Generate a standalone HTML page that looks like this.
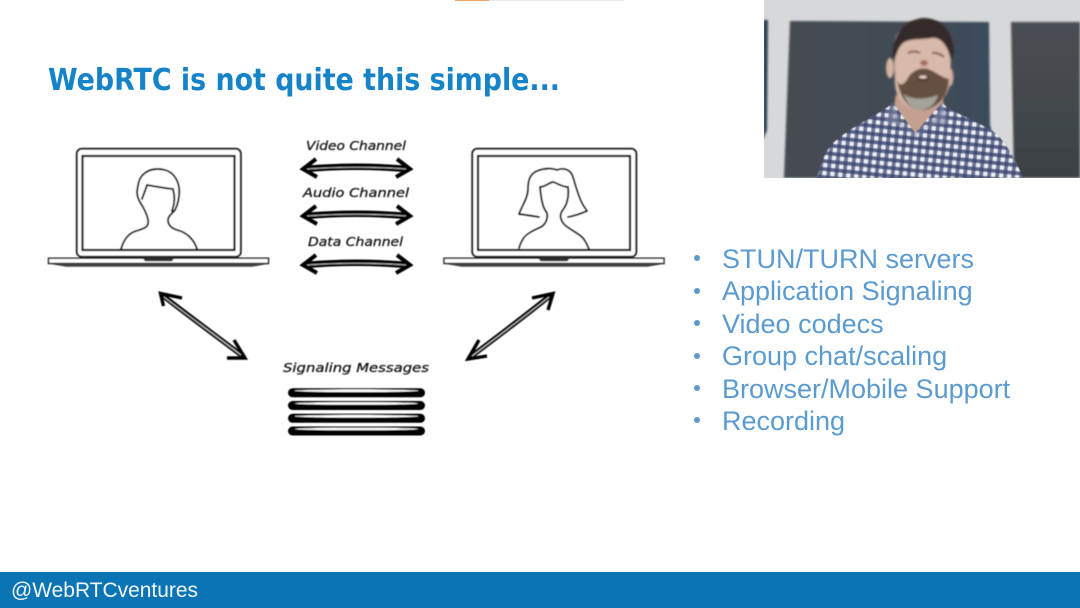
<!DOCTYPE html>
<html><head><meta charset="utf-8"><style>
html,body{margin:0;padding:0;background:#fff}
svg{display:block}
</style></head><body>
<svg width="1080" height="608" viewBox="0 0 1080 608" xmlns="http://www.w3.org/2000/svg">
<defs>
<filter id="b1" x="-5%" y="-5%" width="110%" height="110%"><feGaussianBlur stdDeviation="0.4"/></filter>
<filter id="b2" x="-5%" y="-5%" width="110%" height="110%"><feGaussianBlur stdDeviation="1"/></filter>
<filter id="b4" x="-5%" y="-5%" width="110%" height="110%"><feGaussianBlur stdDeviation="0.6"/></filter>
<pattern id="chk" width="8" height="8" patternUnits="userSpaceOnUse" patternTransform="rotate(6)">
<rect width="8" height="8" fill="#eef0f5"/>
<rect width="4" height="8" fill="#4b5680" opacity=".8"/>
<rect width="8" height="4" fill="#3b4570" opacity=".8"/>
</pattern>
<linearGradient id="pan" x1="0" y1="0" x2="1" y2="0"><stop offset="0" stop-color="#454b51"/><stop offset=".6" stop-color="#434c54"/><stop offset="1" stop-color="#394b5d"/></linearGradient>
<linearGradient id="pan2" x1="0" y1="0" x2="0" y2="1"><stop offset="0" stop-color="#4b4f53"/><stop offset="1" stop-color="#3c4145"/></linearGradient>
<g id="laptop">
<rect x="76.8" y="148.8" width="164" height="108" rx="5" fill="#fff" stroke="#222" stroke-width="2"/>
<rect x="82.500" y="156" width="152" height="94" fill="#fff" stroke="#111" stroke-width="2.200"/>
<path d="M48.500 258.200H268.500V263.500H48.500Z" fill="#fff" stroke="#222" stroke-width="1.500"/>
<path d="M50 264L66 266.800H252L268 264Z" fill="#444"/>
<path d="M143 258.200H174L172 261.200H145Z" fill="#333"/>
</g>
<g id="harrow">
<path d="M305 169Q356 164.500 408 169" fill="none" stroke="#050505" stroke-width="6.500"/>
<path d="M307 169Q356 165.500 406 169" fill="none" stroke="#bbb" stroke-width="1.100"/>
<path d="M316 159L303 169L317 177" fill="none" stroke="#050505" stroke-width="4"/>
<path d="M397 159L410 169L396 177" fill="none" stroke="#050505" stroke-width="4"/>
</g>
<g id="disk">
<rect x="288" y="-4.500" width="137" height="9" rx="4.500" fill="#050505"/>
<ellipse cx="356.500" cy="-2" rx="62" ry="1.300" fill="#fff"/>
</g>
</defs>

<rect width="1080" height="608" fill="#fff"/>
<rect x="455" y="0" width="34" height="1" fill="#eda56f"/>
<rect x="489" y="0" width="135" height="1" fill="#e9e9e9"/>

<text x="48" y="90" font-family="'DejaVu Sans',sans-serif" font-weight="700" font-size="30" fill="#1583c8" textLength="512" lengthAdjust="spacingAndGlyphs">WebRTC is not quite this simple...</text>

<g filter="url(#b1)">
<use href="#laptop"/>
<use href="#laptop" x="395.500"/>
<g fill="none" stroke="#0c0c0c" stroke-width="1.900" stroke-linecap="round" stroke-linejoin="round">
<path d="M121 249C124 239 129 233 136 231C142 229 147 228 148 224C149 219 146 213 143 207C139 201 137 197 137 192C138 184 139 177 145 173C150 169 158 168 165 170C172 172 177 177 179 187C180 196 178 204 175 210C172 214 168 216 168 220C168 225 171 228 177 230C186 232 194 239 197 249"/>
<path d="M142 199C144 193 146 189 147 185C153 186 164 188 173 189"/>
<path d="M173 189C175 196 175 203 172 211"/>
<path d="M519 214C523 204 528 197 528 189C528 180 530 174 537 171C544 168 552 168 557 170C564 167 571 170 573 177C576 187 578 195 582 203C584 207 586 209 587 211C580 214 574 216 568 217"/>
<path d="M519 214C526 215 533 216 539 217"/>
<path d="M540 187C545 187 550 182 553 182C557 183 562 187 568 187"/>
<path d="M540 187C541 197 542 207 547 213C548 218 546 224 541 227C532 231 526 234 523 239C521 242 520 245 519 248"/>
<path d="M568 187C569 196 568 204 562 211C559 216 561 222 566 226C574 232 582 235 585 241C587 244 588 247 589 249"/>
</g>
<use href="#harrow"/>
<use href="#harrow" y="47"/>
<use href="#harrow" y="96"/>
<g fill="none">
<path d="M162 295C190 317 215 335 244 357" stroke="#050505" stroke-width="5"/>
<path d="M164 297C190 317 215 335 241 355" stroke="#c4c4c4" stroke-width="1.100"/>
<path d="M163.500 306L160.500 293.500L182 298" stroke="#050505" stroke-width="3.400"/>
<path d="M234 340L245 358L227 358" stroke="#050505" stroke-width="3.400"/>
<path d="M551 295C525 316 497 337 469 358" stroke="#050505" stroke-width="5"/>
<path d="M549 297C525 316 497 337 472 356" stroke="#c4c4c4" stroke-width="1.100"/>
<path d="M532 298L553 293.500L548 310" stroke="#050505" stroke-width="3.400"/>
<path d="M479 340L468 359L487 356" stroke="#050505" stroke-width="3.400"/>
</g>
<use href="#disk" y="392.800"/>
<use href="#disk" y="405.500"/>
<use href="#disk" y="418.300"/>
<use href="#disk" y="431"/>
</g>

<g font-family="'DejaVu Sans',sans-serif" font-style="oblique" font-size="12.500" fill="#111" stroke="#111" stroke-width=".25" filter="url(#b1)">
<text x="306" y="150" textLength="100" lengthAdjust="spacingAndGlyphs">Video Channel</text>
<text x="303" y="197" textLength="106" lengthAdjust="spacingAndGlyphs">Audio Channel</text>
<text x="308" y="246" textLength="95" lengthAdjust="spacingAndGlyphs">Data Channel</text>
<text x="283" y="372" textLength="146" lengthAdjust="spacingAndGlyphs">Signaling Messages</text>
</g>

<g font-family="'Liberation Sans',sans-serif" font-size="27" fill="#5b9bcf">
<circle cx="697" cy="258" r="3"/><text x="722" y="268">STUN/TURN servers</text>
<circle cx="697" cy="291" r="3"/><text x="722" y="300">Application Signaling</text>
<circle cx="697" cy="323" r="3"/><text x="722" y="333">Video codecs</text>
<circle cx="697" cy="356" r="3"/><text x="722" y="365">Group chat/scaling</text>
<circle cx="697" cy="388" r="3"/><text x="722" y="398">Browser/Mobile Support</text>
<circle cx="697" cy="420" r="3"/><text x="722" y="430">Recording</text>
</g>

<svg x="763" y="0" width="317" height="178" viewBox="763 0 317 178">
<rect x="763" y="0" width="317" height="178" fill="#d6d8d9"/>
<g filter="url(#b2)">
<path d="M763 20H768L767 130L763 140Z" fill="#2f4254"/>
<path d="M790 21L989 22L990 125L1005 178H784Z" fill="url(#pan)"/>
<path d="M1011 22H1080V178H1014Z" fill="url(#pan2)"/>
<path d="M896 95L942 95L946 125L915 140L892 125Z" fill="#c4a090"/>
</g>
<path filter="url(#b4)" d="M817 178C820 165 826 150 833 143C842 135 850 130 858 125C870 118 882 112 893 103L915 133L942 103C952 112 965 116 974 121C985 127 995 131 1001 139C1010 150 1018 165 1023 178Z" fill="url(#chk)"/>
<g filter="url(#b2)">
<path d="M893 102L899 120L904 127L915 134L926 127L935 118L942 102L948 124L930 125L915 137L900 125L886 122Z" fill="#7e86a4" opacity=".6"/>
<ellipse cx="890" cy="68" rx="4" ry="10" fill="#d6b3a3"/>
<ellipse cx="950" cy="77" rx="3.500" ry="9" fill="#d0ac9c"/>
<path d="M894 50C893 30 905 24 922 24C940 24 951 35 951 55L950 85C945 102 932 109 920 109C906 109 897 100 895 85Z" fill="#d9b9aa"/>
<path d="M894 62C890 45 897 22 922 18C940 17 953 30 954 52L951 62C949 48 942 37 932 38C920 40 908 38 902 44C897 50 896 56 894 62Z" fill="#352c2a"/>
<path d="M897 80C900 88 905 84 909 76C914 70 921 67 928 69C935 71 942 78 949 79C949 92 942 105 925 110C908 111 900 98 897 80Z" fill="#65503f"/>
<path d="M904 94C911 100 925 100 938 95C936 104 928 110 920 110C913 110 906 103 904 94Z" fill="#a3a39b"/>
<ellipse cx="923" cy="78" rx="6" ry="3.200" fill="#5a3330"/>
<ellipse cx="923" cy="77" rx="4" ry="1.400" fill="#efe3de"/>
<path d="M908 53Q914 50 920 53M932 53Q938 52 944 57" stroke="#6a5148" stroke-width="2" fill="none"/>
<ellipse cx="924" cy="63" rx="4" ry="3" fill="#a4705f"/>
</g>
<rect x="763" y="0" width="1" height="178" fill="#fff"/>
</svg>

<rect x="0" y="572" width="1080" height="36" fill="#0a74b4"/>
<text x="11" y="597" font-family="'Liberation Sans',sans-serif" font-size="21" fill="#f2f7fb" textLength="187" lengthAdjust="spacingAndGlyphs">@WebRTCventures</text>
</svg>
</body></html>
